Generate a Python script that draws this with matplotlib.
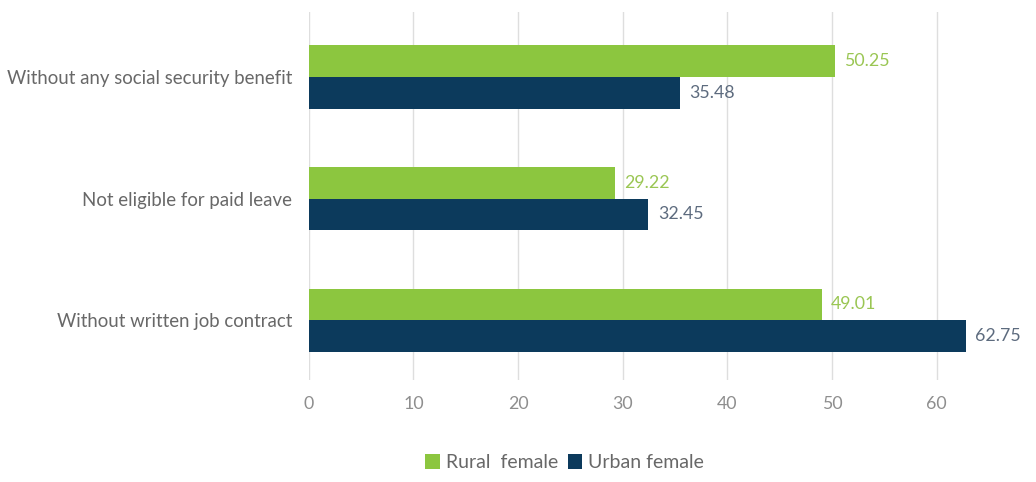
import numpy as np
import matplotlib
matplotlib.use("Agg")
import matplotlib.pyplot as plt

categories = ["Without written job contract", "Not eligible for paid leave",
              "Without any social security benefit"]
rural = [49.01, 29.22, 50.25]
urban = [62.75, 32.45, 35.48]
series_names = ["Rural  female", "Urban female"]
xticks = [0, 10, 20, 30, 40, 50, 60]

GREEN = "#8cc63f"
NAVY = "#0c3a5c"

plt.rcParams["font.family"] = ["Lato", "DejaVu Sans"]

fig = plt.figure(figsize=(10.36, 4.82), dpi=100)
ax = fig.add_axes([0.298, 0.212, 0.687, 0.763])

y = np.arange(len(categories))
h = 0.26
b1 = ax.barh(y + h / 2, rural, height=h, color=GREEN, label=series_names[0], zorder=2)
b2 = ax.barh(y - h / 2, urban, height=h, color=NAVY, label=series_names[1], zorder=2)

for bar, v in zip(b1, rural):
    ax.text(bar.get_width() + 0.9, bar.get_y() + bar.get_height() / 2, f"{v:.2f}",
            va="center", ha="left", fontsize=12.8, color="#9ac653")
for bar, v in zip(b2, urban):
    ax.text(bar.get_width() + 0.9, bar.get_y() + bar.get_height() / 2, f"{v:.2f}",
            va="center", ha="left", fontsize=12.8, color="#5d6b7e")

ax.set_xlim(0, 68)
ax.set_ylim(-0.49, 2.535)
ax.set_xticks(xticks, labels=[str(t) for t in xticks])
ax.set_yticks(y, labels=categories)
ax.grid(axis="x", color="#dedede", linewidth=1, zorder=0)
for s in ax.spines.values():
    s.set_visible(False)
ax.tick_params(axis="x", length=0, pad=12, labelsize=12.8, labelcolor="#8e8e8e")
ax.tick_params(axis="y", length=0, pad=12, labelsize=13.4, labelcolor="#686868")

fig.legend(handles=[b1, b2], loc="center", bbox_to_anchor=(0.545, 0.04), ncol=2,
           frameon=False, handlelength=0.75, handleheight=0.75, handletextpad=0.3,
           columnspacing=0.5, prop={"size": 14}, labelcolor="#686868")

fig.savefig("out.png", dpi=100)
